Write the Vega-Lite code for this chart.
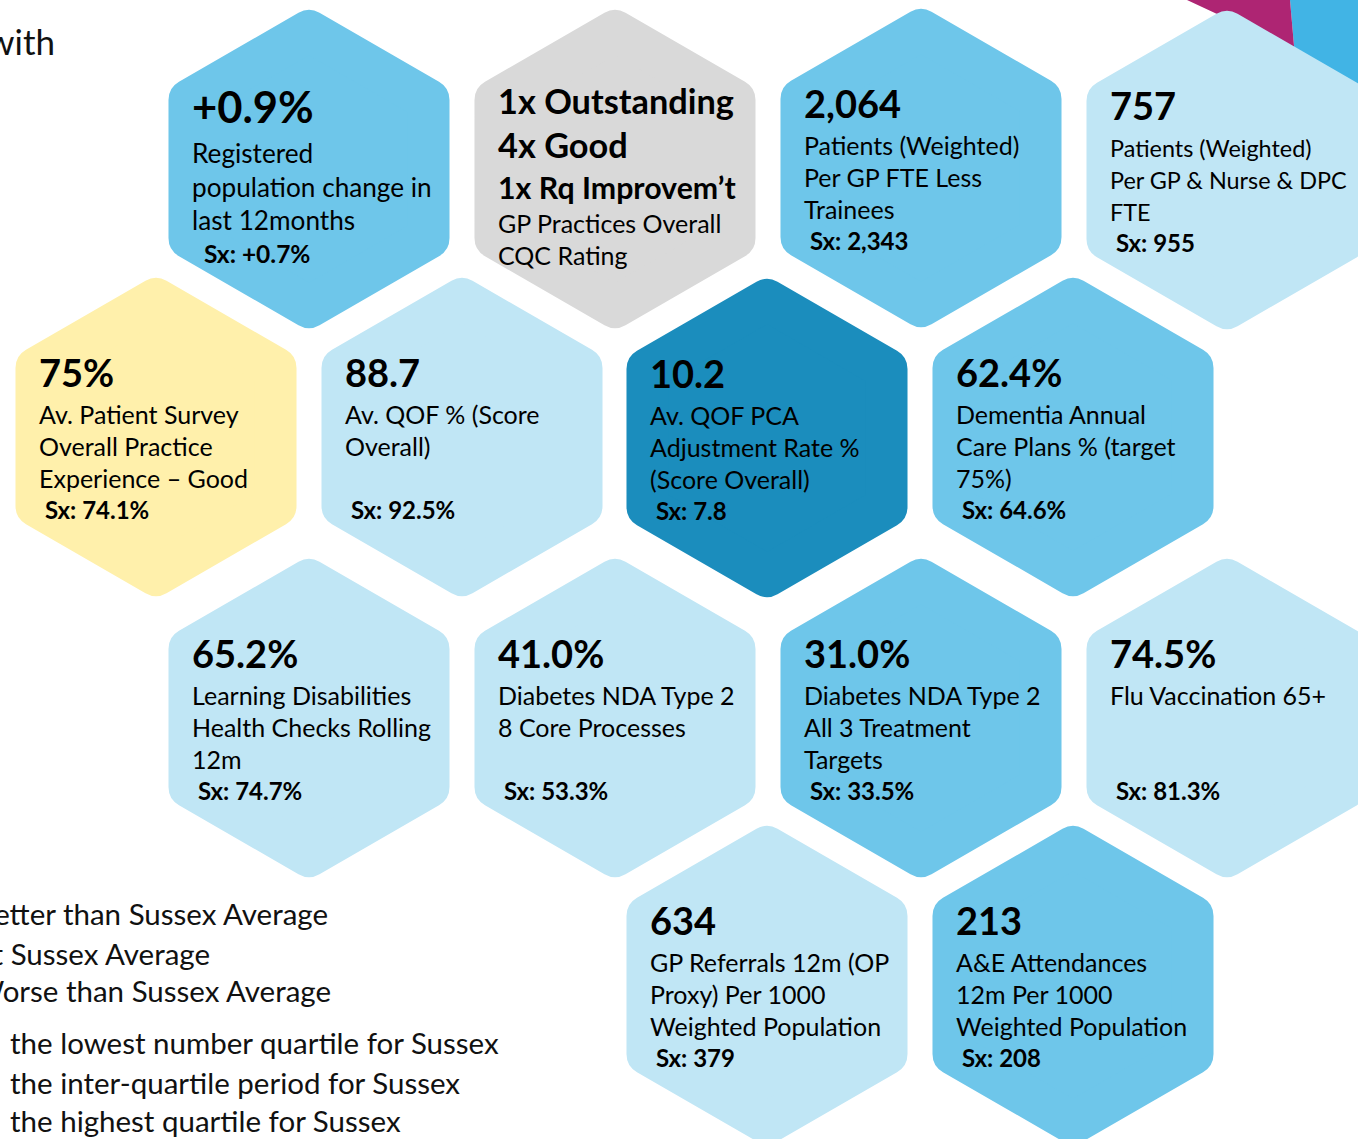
{
  "$schema": "https://vega.github.io/schema/vega-lite/v6.json",
  "width": 1358,
  "height": 1139,
  "autosize": {"type": "none"},
  "padding": 0,
  "background": "#ffffff",
  "config": {"view": {"stroke": null}, "text": {"font": "Lato", "color": "#000000"}},
  "datasets": {
    "deco": [
      {"shape": "blue", "order": 1, "x": 1290, "y": 0},
      {"shape": "blue", "order": 2, "x": 1358, "y": 0},
      {"shape": "blue", "order": 3, "x": 1358, "y": 120},
      {"shape": "blue", "order": 4, "x": 1300.5, "y": 120},
      {"shape": "magenta", "order": 1, "x": 1187, "y": 0},
      {"shape": "magenta", "order": 2, "x": 1290, "y": 0},
      {"shape": "magenta", "order": 3, "x": 1297, "y": 80},
      {"shape": "magenta", "order": 4, "x": 1260, "y": 34}
    ],
    "hexes": [
      {"id": "pop", "x": 309, "y": 169, "band": "inter-quartile", "value": "+0.9%", "label": ["Registered", "population change in", "last 12months"], "sx": "Sx: +0.7%"},
      {"id": "cqc", "x": 615, "y": 169, "band": "not rated", "value": ["1x Outstanding", "4x Good"], "sub": "1x Rq Improvem’t", "label": ["GP Practices Overall", "CQC Rating"]},
      {"id": "gpfte", "x": 921, "y": 168, "band": "inter-quartile", "value": "2,064", "label": ["Patients (Weighted)", "Per GP FTE Less", "Trainees"], "sx": "Sx: 2,343"},
      {"id": "gpnurse", "x": 1227, "y": 170, "band": "lowest quartile", "value": "757", "label": ["Patients (Weighted)", "Per GP & Nurse & DPC", "FTE"], "sx": "Sx: 955"},
      {"id": "survey", "x": 156, "y": 437, "band": "similar", "value": "75%", "label": ["Av. Patient Survey", "Overall Practice", "Experience – Good"], "sx": "Sx: 74.1%"},
      {"id": "qof", "x": 462, "y": 437, "band": "lowest quartile", "value": "88.7", "label": ["Av. QOF % (Score", "Overall)"], "sx": "Sx: 92.5%"},
      {"id": "pca", "x": 767, "y": 438, "band": "highest quartile", "value": "10.2", "label": ["Av. QOF PCA", "Adjustment Rate %", "(Score Overall)"], "sx": "Sx: 7.8"},
      {"id": "dementia", "x": 1073, "y": 437, "band": "inter-quartile", "value": "62.4%", "label": ["Dementia Annual", "Care Plans % (target", "75%)"], "sx": "Sx: 64.6%"},
      {"id": "ld", "x": 309, "y": 718, "band": "lowest quartile", "value": "65.2%", "label": ["Learning Disabilities", "Health Checks Rolling", "12m"], "sx": "Sx: 74.7%"},
      {"id": "dm8", "x": 615, "y": 718, "band": "lowest quartile", "value": "41.0%", "label": ["Diabetes NDA Type 2", "8 Core Processes"], "sx": "Sx: 53.3%"},
      {"id": "dm3", "x": 921, "y": 718, "band": "inter-quartile", "value": "31.0%", "label": ["Diabetes NDA Type 2", "All 3 Treatment", "Targets"], "sx": "Sx: 33.5%"},
      {"id": "flu", "x": 1227, "y": 718, "band": "lowest quartile", "value": "74.5%", "label": ["Flu Vaccination 65+"], "sx": "Sx: 81.3%"},
      {"id": "ref", "x": 767, "y": 985, "band": "lowest quartile", "value": "634", "label": ["GP Referrals 12m (OP", "Proxy) Per 1000", "Weighted Population"], "sx": "Sx: 379"},
      {"id": "ae", "x": 1073, "y": 985, "band": "inter-quartile", "value": "213", "label": ["A&E Attendances", "12m Per 1000", "Weighted Population"], "sx": "Sx: 208"}
    ],
    "cutnotes": [
      {"x": 328, "y": 925, "text": "Better than Sussex Average"},
      {"x": 210, "y": 965, "text": "At Sussex Average"},
      {"x": 331, "y": 1002, "text": "Worse than Sussex Average"}
    ],
    "title": [
      {"x": 55, "y": 55, "text": "with"}
    ],
    "notes": [
      {"x": 10, "y": 1054, "text": "the lowest number quartile for Sussex"},
      {"x": 10, "y": 1094, "text": "the inter-quartile period for Sussex"},
      {"x": 10, "y": 1132, "text": "the highest quartile for Sussex"}
    ]
  },
  "encoding": {
    "x": {"field": "x", "type": "quantitative", "scale": {"domain": [0, 1358], "nice": false, "zero": false}, "axis": null},
    "y": {"field": "y", "type": "quantitative", "scale": {"domain": [0, 1139], "nice": false, "zero": false, "reverse": true}, "axis": null}
  },
  "layer": [
    {
      "data": {"name": "deco"},
      "mark": {"type": "line", "filled": true, "strokeWidth": 0},
      "encoding": {
        "color": {"field": "shape", "type": "nominal", "scale": {"domain": ["magenta", "blue"], "range": ["#AE2573", "#41B4E5"]}, "legend": null},
        "order": {"field": "order", "type": "quantitative"}
      }
    },
    {
      "data": {"name": "hexes"},
      "mark": {"type": "point", "shape": "M0,-1L0.866,-0.5L0.866,0.5L0,1L-0.866,0.5L-0.866,-0.5Z", "filled": true, "size": 76176, "opacity": 1, "strokeWidth": 42, "strokeJoin": "round"},
      "encoding": {
        "fill": {"field": "band", "type": "nominal", "scale": {"domain": ["lowest quartile", "inter-quartile", "highest quartile", "similar", "not rated"], "range": ["#C0E6F5", "#6EC6EA", "#1B8DBD", "#FFF0AB", "#D9D9D9"]}, "legend": null},
        "stroke": {"field": "band", "type": "nominal", "scale": {"domain": ["lowest quartile", "inter-quartile", "highest quartile", "similar", "not rated"], "range": ["#C0E6F5", "#6EC6EA", "#1B8DBD", "#FFF0AB", "#D9D9D9"]}, "legend": null}
      }
    },
    {
      "data": {"name": "hexes"},
      "transform": [{"filter": "datum.id !== 'pop' && datum.id !== 'cqc'"}],
      "mark": {"type": "text", "align": "left", "baseline": "alphabetic", "dx": -117, "dy": -50, "fontSize": 38, "fontWeight": "bold"},
      "encoding": {"text": {"field": "value", "type": "nominal"}}
    },
    {
      "data": {"name": "hexes"},
      "transform": [{"filter": "datum.id !== 'pop' && datum.id !== 'cqc' && datum.id !== 'gpnurse'"}],
      "mark": {"type": "text", "align": "left", "baseline": "alphabetic", "dx": -117, "dy": -13, "fontSize": 25, "lineHeight": 32},
      "encoding": {"text": {"field": "label", "type": "nominal"}}
    },
    {
      "data": {"name": "hexes"},
      "transform": [{"filter": "datum.id === 'gpnurse'"}],
      "mark": {"type": "text", "align": "left", "baseline": "alphabetic", "dx": -117, "dy": -13, "fontSize": 23.4, "lineHeight": 32},
      "encoding": {"text": {"field": "label", "type": "nominal"}}
    },
    {
      "data": {"name": "hexes"},
      "transform": [{"filter": "datum.id !== 'pop' && datum.id !== 'cqc'"}],
      "mark": {"type": "text", "align": "left", "baseline": "alphabetic", "dx": -111, "dy": 82, "fontSize": 24, "fontWeight": "bold"},
      "encoding": {"text": {"field": "sx", "type": "nominal"}}
    },
    {
      "data": {"name": "hexes"},
      "transform": [{"filter": "datum.id === 'pop'"}],
      "mark": {"type": "text", "align": "left", "baseline": "alphabetic", "dx": -117, "dy": -46, "fontSize": 43.5, "fontWeight": "bold"},
      "encoding": {"text": {"field": "value", "type": "nominal"}}
    },
    {
      "data": {"name": "hexes"},
      "transform": [{"filter": "datum.id === 'pop'"}],
      "mark": {"type": "text", "align": "left", "baseline": "alphabetic", "dx": -117, "dy": -6, "fontSize": 26.2, "lineHeight": 33.5},
      "encoding": {"text": {"field": "label", "type": "nominal"}}
    },
    {
      "data": {"name": "hexes"},
      "transform": [{"filter": "datum.id === 'pop'"}],
      "mark": {"type": "text", "align": "left", "baseline": "alphabetic", "dx": -105, "dy": 94, "fontSize": 24.5, "fontWeight": "bold"},
      "encoding": {"text": {"field": "sx", "type": "nominal"}}
    },
    {
      "data": {"name": "hexes"},
      "transform": [{"filter": "datum.id === 'cqc'"}],
      "mark": {"type": "text", "align": "left", "baseline": "alphabetic", "dx": -117, "dy": -55, "fontSize": 34.3, "fontWeight": "bold", "lineHeight": 44},
      "encoding": {"text": {"field": "value", "type": "nominal"}}
    },
    {
      "data": {"name": "hexes"},
      "transform": [{"filter": "datum.id === 'cqc'"}],
      "mark": {"type": "text", "align": "left", "baseline": "alphabetic", "dx": -117, "dy": 30, "fontSize": 30.3, "fontWeight": "bold"},
      "encoding": {"text": {"field": "sub", "type": "nominal"}}
    },
    {
      "data": {"name": "hexes"},
      "transform": [{"filter": "datum.id === 'cqc'"}],
      "mark": {"type": "text", "align": "left", "baseline": "alphabetic", "dx": -117, "dy": 64, "fontSize": 25, "lineHeight": 32},
      "encoding": {"text": {"field": "label", "type": "nominal"}}
    },
    {
      "data": {"name": "cutnotes"},
      "mark": {"type": "text", "align": "right", "baseline": "alphabetic", "fontSize": 29.5, "color": "#111111"},
      "encoding": {"text": {"field": "text", "type": "nominal"}}
    },
    {
      "data": {"name": "title"},
      "mark": {"type": "text", "align": "right", "baseline": "alphabetic", "fontSize": 35, "color": "#111111"},
      "encoding": {"text": {"field": "text", "type": "nominal"}}
    },
    {
      "data": {"name": "notes"},
      "mark": {"type": "text", "align": "left", "baseline": "alphabetic", "fontSize": 29.5, "color": "#111111"},
      "encoding": {"text": {"field": "text", "type": "nominal"}}
    }
  ]
}
